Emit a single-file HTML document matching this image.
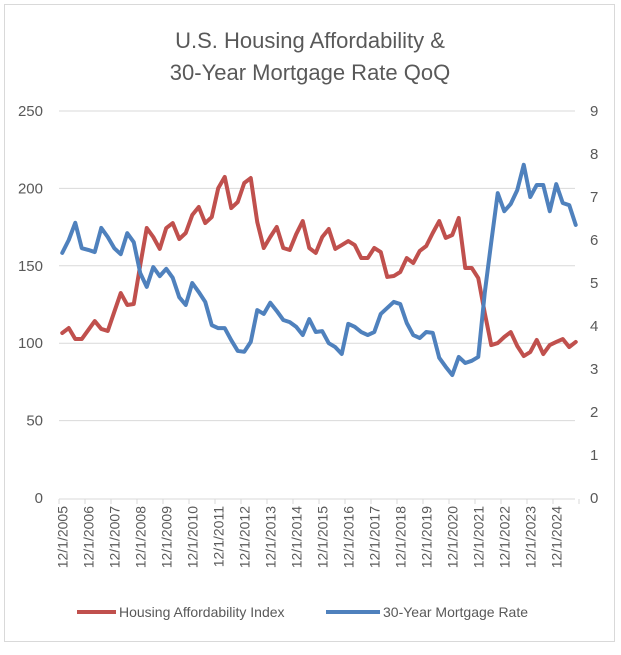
<!DOCTYPE html>
<html><head><meta charset="utf-8"><style>
body{margin:0;background:#fff;}
svg text{font-family:"Liberation Sans",sans-serif;fill:#595959;}
</style></head><body>
<svg width="621" height="650" viewBox="0 0 621 650">
<rect x="4.5" y="4.5" width="610" height="637" fill="#fff" stroke="#d9d9d9"/>
<text x="310" y="48" font-size="22" text-anchor="middle">U.S. Housing Affordability &amp;</text>
<text x="310" y="80" font-size="22" text-anchor="middle">30-Year Mortgage Rate QoQ</text>
<g id="grid"></g><g id="axes"></g><g id="series"></g>
<g>
<line x1="77" y1="612" x2="116" y2="612" stroke="#c0504d" stroke-width="4"/>
<text x="119" y="617" font-size="14">Housing Affordability Index</text>
<line x1="326" y1="612" x2="380" y2="612" stroke="#4f81bd" stroke-width="4"/>
<text x="383" y="617" font-size="14">30-Year Mortgage Rate</text>
</g>
</svg>
<script>
const leftTicks=[0,50,100,150,200,250];
const rightTicks=[0,1,2,3,4,5,6,7,8,9];
const xLabels=["12/1/2005","12/1/2006","12/1/2007","12/1/2008","12/1/2009","12/1/2010","12/1/2011","12/1/2012","12/1/2013","12/1/2014","12/1/2015","12/1/2016","12/1/2017","12/1/2018","12/1/2019","12/1/2020","12/1/2021","12/1/2022","12/1/2023","12/1/2024"];
const housingIndex=[106.6,109.8,102.7,102.7,108.5,114.3,109.2,107.9,120.2,132.4,124.7,125.3,150.5,174.4,168.6,160.9,174.4,177.6,167.3,171.2,182.8,188,177.6,181.5,200.2,207.4,187.3,191.2,203.5,206.7,178.3,161.5,168.6,175.1,161.5,160.2,170.5,178.9,161.5,158.3,168.6,173.8,160.9,163.4,166,163.4,155,155,161.5,158.9,142.8,143.4,146,155,151.8,159.6,162.8,171.2,178.9,168,169.9,180.9,148.6,148.6,142.1,119.5,98.8,100.1,104,107.2,98.2,91.7,94.3,102.1,93,98.8,100.8,102.7,97.5,100.8];
const mortgageRate=[5.70,6.00,6.40,5.81,5.77,5.72,6.28,6.07,5.81,5.67,6.16,5.95,5.23,4.91,5.37,5.16,5.33,5.12,4.67,4.49,5.00,4.79,4.56,4.02,3.95,3.95,3.67,3.42,3.40,3.63,4.37,4.28,4.54,4.35,4.14,4.09,3.98,3.79,4.16,3.86,3.88,3.60,3.51,3.35,4.05,3.98,3.86,3.79,3.86,4.28,4.42,4.56,4.51,4.07,3.79,3.72,3.86,3.84,3.26,3.05,2.86,3.28,3.14,3.19,3.28,4.77,5.95,7.09,6.67,6.84,7.16,7.75,7.00,7.28,7.28,6.67,7.30,6.86,6.81,6.35];
const NS="http://www.w3.org/2000/svg";
const top_=111,bot=498,axL=59,step=6.5;
const yL=v=>bot-(v/250)*(bot-top_);
const yR=v=>bot-(v/9)*(bot-top_);
const xI=i=>axL+step/2+i*step;
function mk(tag,attrs,parent){const e=document.createElementNS(NS,tag);for(const k in attrs)e.setAttribute(k,attrs[k]);parent.appendChild(e);return e;}
const grid=document.getElementById('grid'),axes=document.getElementById('axes'),series=document.getElementById('series');
const axR=575;
leftTicks.forEach(v=>{
  if(v>0){const g=mk('line',{x1:axL,x2:axR,y1:yL(v),y2:yL(v),stroke:'#d9d9d9','stroke-width':1},grid);
  
  }
  const t=mk('text',{x:43,y:yL(v)+5,'font-size':15,'text-anchor':'end'},axes);t.textContent=v;
  
  
});
rightTicks.forEach(v=>{
  const t=mk('text',{x:590,y:yR(v)+5,'font-size':15,'text-anchor':'start'},axes);t.textContent=v;
  
  
});
const ax=mk('line',{x1:axL,x2:axR,y1:bot+1,y2:bot+1,stroke:'#d9d9d9','stroke-width':1},axes);


for(let k=0;k<=housingIndex.length/4;k++){
  const x=axL+k*4*step;
  const tk=mk('line',{x1:x,x2:x,y1:bot+1,y2:bot+6,stroke:'#d9d9d9'},axes);
  
  
}
xLabels.forEach((l,k)=>{
  const x=xI(k*4)+5;
  const t=mk('text',{x:x,y:506,'font-size':14,'text-anchor':'end',transform:`rotate(-90 ${x} 506)`},axes);t.textContent=l;
  
  
});
const p1=mk('polyline',{points:housingIndex.map((v,i)=>xI(i)+','+yL(v)).join(' '),fill:'none',stroke:'#c0504d','stroke-width':4,'stroke-linejoin':'round','stroke-linecap':'round'},series);


const p2=mk('polyline',{points:mortgageRate.map((v,i)=>xI(i)+','+yR(v)).join(' '),fill:'none',stroke:'#4f81bd','stroke-width':4,'stroke-linejoin':'round','stroke-linecap':'round'},series);


</script>
</body></html>
